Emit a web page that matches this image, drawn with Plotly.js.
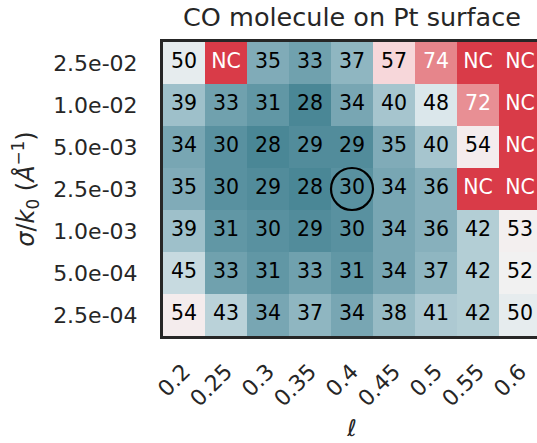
<!DOCTYPE html>
<html>
<head>
<meta charset="utf-8">
<script src="https://cdn.plot.ly/plotly-3.0.1.min.js"></script>
<style>
html, body { margin: 0; padding: 0; overflow: hidden; background: #fff; }
#chart { width: 545px; height: 443px; }
</style>
</head>
<body>
<div id="chart"></div>
<script>
// ---- data ----
const ellLabels = ['0.2', '0.25', '0.3', '0.35', '0.4', '0.45', '0.5', '0.55', '0.6'];
const sigmaLabels = ['2.5e-02', '1.0e-02', '5.0e-03', '2.5e-03', '1.0e-03', '5.0e-04', '2.5e-04'];

const row_2_5e_02 = [50, 'NC', 35, 33, 37, 57, 74, 'NC', 'NC'];
const row_1_0e_02 = [39, 33, 31, 28, 34, 40, 48, 72, 'NC'];
const row_5_0e_03 = [34, 30, 28, 29, 29, 35, 40, 54, 'NC'];
const row_2_5e_03 = [35, 30, 29, 28, 30, 34, 36, 'NC', 'NC'];
const row_1_0e_03 = [39, 31, 30, 29, 30, 34, 36, 42, 53];
const row_5_0e_04 = [45, 33, 31, 33, 31, 34, 37, 42, 52];
const row_2_5e_04 = [54, 43, 34, 37, 34, 38, 41, 42, 50];

const rows = [row_2_5e_02, row_1_0e_02, row_5_0e_03, row_2_5e_03, row_1_0e_03, row_5_0e_04, row_2_5e_04];

// highlighted (chosen) setting
const chosenEll = '0.4';
const chosenSigma = '2.5e-03';

// ---- colour scale (diverging teal -> light grey -> red) ----
const zMin = 25, zMax = 90;
const colourStops = [
  [25, '#3f7f91'],
  [28, '#4a8796'],
  [34, '#78a6b3'],
  [40, '#a6c5ce'],
  [48, '#dbe7eb'],
  [52, '#f1f1f1'],
  [54, '#f4eced'],
  [57, '#f7d7da'],
  [74, '#e6858b'],
  [90, '#d93b48']
];
const colorscale = colourStops.map(s => [(s[0] - zMin) / (zMax - zMin), s[1]]);

const xIdx = ellLabels.map((_, i) => i);
const yIdx = sigmaLabels.map((_, i) => i);

const z = rows.map(r => r.map(v => v === 'NC' ? zMax : v));

const tx = [], ty = [], tt = [], tc = [];
rows.forEach((r, ri) => r.forEach((v, ci) => {
  tx.push(ci); ty.push(ri); tt.push(String(v));
  tc.push((v === 'NC' || v >= 70) ? '#ffffff' : '#000000');
}));

const heat = {
  type: 'heatmap',
  x: xIdx, y: yIdx, z: z,
  zmin: zMin, zmax: zMax,
  colorscale: colorscale,
  showscale: false,
  hoverinfo: 'skip'
};

const labels = {
  type: 'scatter', mode: 'text',
  x: tx, y: ty, text: tt,
  textfont: { family: 'DejaVu Sans', size: 20.5, color: tc },
  hoverinfo: 'skip', showlegend: false
};

const ci = ellLabels.indexOf(chosenEll);
const ri = sigmaLabels.indexOf(chosenSigma);

const font = { family: 'DejaVu Sans', color: '#262626' };

const layout = {
  width: 545, height: 443,
  margin: { l: 163, r: 4, t: 42, b: 107 },
  paper_bgcolor: '#ffffff', plot_bgcolor: '#ffffff',
  font: font,
  showlegend: false,
  title: {
    text: 'CO molecule on Pt surface',
    font: { family: 'DejaVu Sans', size: 25.5, color: '#262626' },
    x: 0.5, xref: 'paper', xanchor: 'center',
    y: 1 - 17 / 443, yref: 'container', yanchor: 'middle'
  },
  xaxis: {
    range: [-0.5, ellLabels.length - 0.5],
    tickvals: xIdx, ticktext: ellLabels,
    tickangle: -45,
    tickfont: { family: 'DejaVu Sans', size: 22, color: '#262626' },
    ticks: '', showgrid: false, zeroline: false,
    showline: true, mirror: true, linecolor: '#262626', linewidth: 3,
    ticklabelstandoff: 11,
    title: { text: '<i>ℓ</i>', font: { family: 'DejaVu Sans', size: 23, color: '#262626' }, standoff: 10 },
    automargin: false, fixedrange: true
  },
  yaxis: {
    range: [sigmaLabels.length - 0.5, -0.5],
    tickvals: yIdx, ticktext: sigmaLabels,
    tickfont: { family: 'DejaVu Sans', size: 22, color: '#262626' },
    ticks: '', showgrid: false, zeroline: false,
    showline: true, mirror: true, linecolor: '#262626', linewidth: 3,
    ticklabelstandoff: 18,
    title: { text: '<i>σ</i>/<i>k</i><sub>0</sub> (<i>Å</i><sup>−1</sup>)', font: { family: 'DejaVu Sans', size: 24, color: '#262626' }, standoff: 12 },
    automargin: false, fixedrange: true
  },
  shapes: [{
    type: 'circle', xref: 'x', yref: 'y',
    x0: ci - 0.5, x1: ci + 0.5, y0: ri - 0.5, y1: ri + 0.5,
    line: { color: '#000000', width: 2.2 }
  }]
};

Plotly.newPlot('chart', [heat, labels], layout, { staticPlot: true, displayModeBar: false });
</script>
</body>
</html>
